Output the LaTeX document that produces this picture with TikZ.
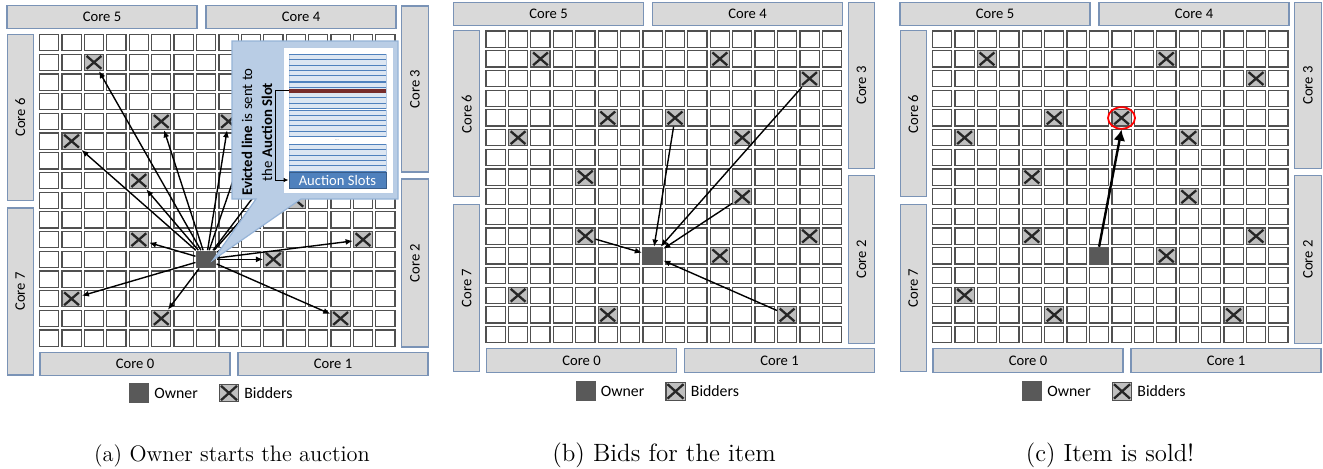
\documentclass[tikz,border=0pt]{standalone}
\usepackage{fontspec}
\newfontfamily\calib{Carlito}
\usetikzlibrary{arrows.meta,shapes.geometric}

\definecolor{corefill}{HTML}{D9D9D9}
\definecolor{coreline}{HTML}{7A93B6}
\definecolor{cellline}{HTML}{505050}
\definecolor{bidfill}{HTML}{BFBFBF}
\definecolor{xmarkc}{HTML}{262626}
\definecolor{ownfill}{HTML}{595959}
\definecolor{calfill}{HTML}{B9CDE5}
\definecolor{calline}{HTML}{95B3D7}
\definecolor{slotfill}{HTML}{DCE6F2}
\definecolor{slotline}{HTML}{4F81BD}
\definecolor{slotedge}{HTML}{B8CCE4}
\definecolor{evict}{HTML}{772C2A}
\definecolor{auctfill}{HTML}{4F81BD}
\definecolor{auctline}{HTML}{385D8A}

% cross drawn inside a bidder square
\newcommand\drawcross[2]{%
  \draw[xmarkc, line width=1.15pt]
    ([shift={(-#1,-#2)}]path picture bounding box.center) --
    ([shift={(#1,#2)}]path picture bounding box.center)
    ([shift={(-#1,#2)}]path picture bounding box.center) --
    ([shift={(#1,-#2)}]path picture bounding box.center);}

\tikzset{
  core/.style={draw=coreline, fill=corefill, line width=0.55pt, inner sep=0pt,
    font=\calib\fontsize{7.3}{8}\selectfont},
  cell/.style={draw=cellline, fill=white, line width=0.6pt, inner sep=0pt,
    minimum width=9.6pt, minimum height=8.1pt},
  bidder/.style={cell, fill=bidfill, path picture={\drawcross{3.7pt}{3.2pt}}},
  owner/.style={fill=ownfill, inner sep=0pt, minimum width=10.2pt, minimum height=8.7pt},
  keytext/.style={inner sep=0pt, font=\calib\fontsize{7.9}{9}\selectfont},
  arr/.style={line width=0.7pt, -{Latex[length=3.6pt,width=3pt]}},
  soldarrow/.style={line width=1.2pt, -{Latex[length=5.5pt,width=6pt]}},
  capt/.style={inner sep=0pt, anchor=base},
  slotblock/.style={fill=slotfill, draw=slotedge, line width=0.4pt},
  slotrule/.style={draw=slotline, line width=0.5pt},
}

% one chip: cores round a 16x16 grid of banks, bidders and the owner
\newcommand\chippanel[1]{%
  \node[core, minimum width=95pt, minimum height=11.5pt] (#1-core5) at (102,17.3) {Core 5};
  \node[core, minimum width=95pt, minimum height=11.5pt] (#1-core4) at (301,17.3) {Core 4};
  \node[core, rotate=90, minimum width=83pt, minimum height=13.2pt] (#1-core3) at (415,89) {Core 3};
  \node[core, rotate=90, minimum width=84pt, minimum height=13.2pt] (#1-core2) at (415,263) {Core 2};
  \node[core, rotate=90, minimum width=83pt, minimum height=13pt] (#1-core6) at (20.3,117.4) {Core 6};
  \node[core, rotate=90, minimum width=83.5pt, minimum height=13pt] (#1-core7) at (20.3,291.5) {Core 7};
  \node[core, minimum width=95pt, minimum height=11.7pt] (#1-core0) at (135,364) {Core 0};
  \node[core, minimum width=95pt, minimum height=11.7pt] (#1-core1) at (333,364) {Core 1};
  \foreach \gi in {0,...,15}{
    \foreach \gj in {0,...,15}{
      \node[cell] (#1-c\gi-\gj) at ({49.15+\gi*22.42},{42.65+\gj*19.7}) {};
    }
  }
  \foreach \gi/\gj in {2/1,10/1,14/2,5/4,8/4,1/5,11/5,4/7,11/8,4/10,14/10,10/11,1/13,5/14,13/14}{
    \node[bidder] (#1-b\gi-\gj) at (#1-c\gi-\gj) {};
  }
  \node[owner] (#1-own) at (#1-c7-11) {};
}

% legend below each chip
\newcommand\keyrow[1]{%
  \node[owner, minimum width=10pt, minimum height=10pt] (#1-keyown) at (139,393) {};
  \node[keytext, anchor=base west] (#1-keyownt) at (154,398.5) {Owner};
  \node[bidder, minimum width=9.6pt, minimum height=8.8pt,
        path picture={\drawcross{4pt}{3.6pt}}] (#1-keybid) at (229,393) {};
  \node[keytext, anchor=base west] (#1-keybidt) at (244,398.5) {Bidders};
}

\begin{document}
\begin{tikzpicture}[x=0.5pt, y=-0.5pt]
\useasboundingbox (0,0) rectangle (1323,468);

% ---------- (a) the owner broadcasts the evicted line ----------
\chippanel{a}
\keyrow{a}
\foreach \gi/\gj in {2/1,10/1,14/2,5/4,8/4,1/5,11/5,4/7,11/8,4/10,14/10,10/11,1/13,5/14,13/14}{
  \draw[arr] (a-own) -- (a-b\gi-\gj);
}
% callout with the auction slots of the bank
\coordinate (a-tip) at (213,260);
\draw[fill=calfill, draw=calline, line width=0.6pt]
  (232,41) -- (398,41) -- (398,199) -- (301,199) -- (a-tip) -- (256,199) -- (232,199) -- cycle;
\node[rotate=90, align=center, inner sep=0pt, font=\calib\fontsize{7.4}{10}\selectfont]
  (a-note) at (257,132) {\textbf{Evicted line} is sent to\\the \textbf{Auction Slot}};
\draw[fill=white, draw=slotedge, line width=0.5pt] (283,47) rectangle (393,193);
\foreach \ytop in {54.5,82,110,144.5}{
  \draw[slotblock] (289,\ytop) rectangle (386,\ytop+26.5);
  \foreach \k in {0,...,5}{
    \draw[slotrule] (289,\ytop+\k*5.3) -- (386,\ytop+\k*5.3);
  }
}
\fill[evict] (289,88.7) rectangle (386,92.7);
\node[text=gray, inner sep=0pt, font=\calib\fontsize{2.5}{3}\selectfont] (a-dots) at (337,140.5) {...};
\node[fill=auctfill, draw=auctline, line width=0.5pt, inner sep=0pt,
      minimum width=48.5pt, minimum height=8pt, text=white,
      font=\calib\fontsize{7.3}{8}\selectfont] (a-slots) at (337.5,180) {Auction Slots};
\coordinate (a-evicted) at (289,90.7);
\draw[line width=0.5pt, -{Latex[length=2.4pt,width=2.2pt]}]
  (a-evicted) -- ++(-14,0) |- (a-slots.west);

% ---------- (b) bidders answer the owner ----------
\begin{scope}[xshift=223.25pt, yshift=1.75pt]
  \chippanel{b}
  \foreach \gi/\gj in {4/10,8/4,14/2,11/8,13/14}{
    \draw[arr] (b-b\gi-\gj) -- (b-own);
  }
\end{scope}
\begin{scope}[xshift=223.25pt, yshift=0.8pt]
  \keyrow{b}
\end{scope}

% ---------- (c) the winning bidder gets the line ----------
\begin{scope}[xshift=446.5pt, yshift=1.75pt]
  \chippanel{c}
  \node[draw=red, ellipse, line width=0.9pt, inner sep=0pt,
        minimum width=13.5pt, minimum height=10.8pt] (c-ring) at (c-c8-4) {};
  \draw[soldarrow] (c-own.north) -- (c-ring.south);
\end{scope}
\begin{scope}[xshift=446.5pt, yshift=0.8pt]
  \keyrow{c}
\end{scope}

% ---------- captions ----------
\node[capt, font=\fontsize{11.2}{13}\selectfont] (cap-a) at (232,461) {(a) Owner starts the auction};
\node[capt, font=\fontsize{12.5}{14}\selectfont] (cap-b) at (664,461) {(b) Bids for the item};
\node[capt, font=\fontsize{12.4}{14}\selectfont] (cap-c) at (1110,461) {(c) Item is sold!};
\end{tikzpicture}
\end{document}
